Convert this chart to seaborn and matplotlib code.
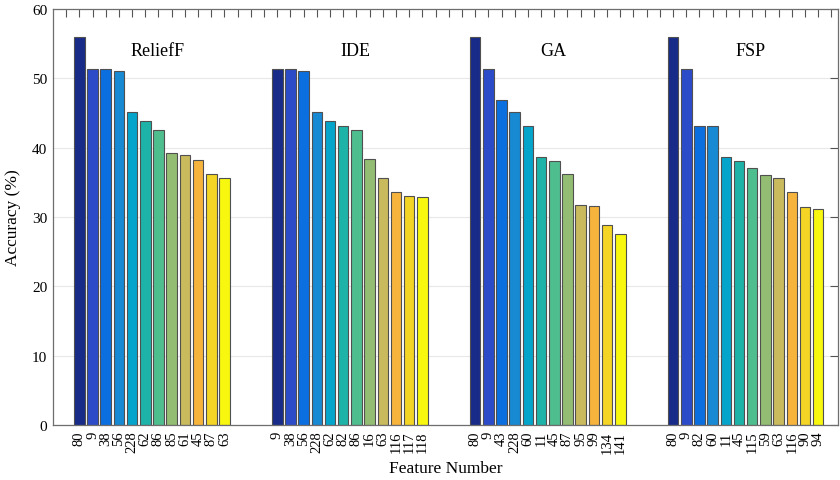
import pandas as pd
import seaborn as sns
import matplotlib.pyplot as plt
import numpy as np

# Data
methods = ['ReliefF', 'IDE', 'GA', 'FSP']
relieff_feats = ['80', '9', '38', '56', '228', '62', '86', '85', '61', '45', '87', '63']
relieff_acc = [56.0, 51.4, 51.4, 51.0, 45.2, 43.8, 42.6, 39.2, 39.0, 38.2, 36.2, 35.7]
ide_feats = ['9', '38', '56', '228', '62', '82', '86', '16', '63', '116', '117', '118']
ide_acc = [51.4, 51.4, 51.0, 45.2, 43.8, 43.2, 42.6, 38.4, 35.7, 33.6, 33.0, 32.9]
ga_feats = ['80', '9', '43', '228', '60', '11', '45', '87', '95', '99', '134', '141']
ga_acc = [56.0, 51.4, 46.9, 45.2, 43.1, 38.6, 38.1, 36.2, 31.8, 31.6, 28.9, 27.5]
fsp_feats = ['80', '9', '82', '60', '11', '45', '115', '59', '63', '116', '90', '94']
fsp_acc = [56.0, 51.4, 43.2, 43.1, 38.6, 38.1, 37.1, 36.1, 35.7, 33.6, 31.4, 31.1]

# parula-like ramp, one colour per rank inside a group
colors = ['#182b88', '#2b4bc9', '#0b6fe0', '#1889d3', '#05a4cb', '#1eb3a8',
          '#4fbe8f', '#93bd72', '#c9ba5d', '#f7b43d', '#f4d425', '#f7f70f']

# Build long table; each group of 12 bars is followed by 3 empty slots
rows = []
groups = [(relieff_feats, relieff_acc), (ide_feats, ide_acc),
          (ga_feats, ga_acc), (fsp_feats, fsp_acc)]
for g, (feats, accs) in enumerate(groups):
    for i, (f, a) in enumerate(zip(feats, accs)):
        rows.append({'method': methods[g], 'pos': 1 + g * 15 + i,
                     'feature': f, 'acc': a, 'rank': f'r{i}'})
df = pd.DataFrame(rows)

sns.set_style('white')
plt.rcParams['font.family'] = ['Liberation Serif', 'DejaVu Serif']
plt.rcParams['text.color'] = 'black'
plt.rcParams['axes.labelcolor'] = 'black'
plt.rcParams['xtick.labelcolor'] = 'black'
plt.rcParams['ytick.labelcolor'] = 'black'

fig, ax = plt.subplots(figsize=(8.4, 4.81), dpi=100)
fig.subplots_adjust(left=0.063, right=0.9976, bottom=0.1143, top=0.979)

sns.barplot(data=df, x='pos', y='acc', hue='rank', hue_order=[f'r{i}' for i in range(12)],
            palette=colors, saturation=1, native_scale=True, dodge=False, width=0.8,
            edgecolor='#505050', linewidth=0.8, legend=False, ax=ax)

# all integer slots get a tick, only bars get a label
ax.set_xticks(np.arange(0, 59))
labels = [''] * 59
for p, f in zip(df['pos'], df['feature']):
    labels[p] = f
ax.set_xticklabels(labels, rotation=90, fontsize=10.5)
ax.set_xlim(-1, 58.5)
ax.set_ylim(0, 60)
ax.set_yticks(np.arange(0, 61, 10))
ax.tick_params(axis='y', labelsize=11)
ax.tick_params(direction='in', top=True, right=True, length=6, width=0.8,
               color='#555555', pad=4)
ax.yaxis.grid(True, color='#e8e8e8', linewidth=0.8)
ax.set_axisbelow(True)
for s in ax.spines.values():
    s.set_color('#6e6e6e')
    s.set_linewidth(0.9)

ax.set_xlabel('Feature Number', fontsize=12.5, labelpad=5)
ax.set_ylabel('Accuracy (%)', fontsize=12.5, labelpad=8)

# method names above each group
for g, m in enumerate(methods):
    ax.text(g * 15 + 6.9, 54, m, ha='center', va='center', fontsize=13)

fig.savefig('out.png', dpi=100)
